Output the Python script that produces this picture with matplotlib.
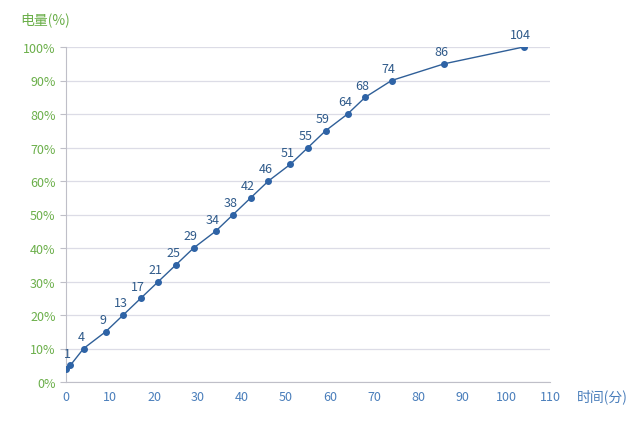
import matplotlib
matplotlib.use("Agg")
import matplotlib.pyplot as plt
from matplotlib.ticker import PercentFormatter

plt.rcParams['font.family'] = ['Noto Sans CJK SC', 'DejaVu Sans']

minutes = [0, 1, 4, 9, 13, 17, 21, 25, 29, 34, 38, 42, 46, 51, 55, 59, 64, 68, 74, 86, 104]
battery = [4, 5, 10, 15, 20, 25, 30, 35, 40, 45, 50, 55, 60, 65, 70, 75, 80, 85, 90, 95, 100]
point_labels = [None, "1", "4", "9", "13", "17", "21", "25", "29", "34", "38", "42", "46",
                "51", "55", "59", "64", "68", "74", "86", "104"]

green = "#6BAF4A"
blue_tick = "#4A7EBB"
line_c = "#2F5F98"
marker_c = "#2E63A6"
label_c = "#2F5A8A"

fig = plt.figure(figsize=(6.4, 4.27), dpi=100)
ax = fig.add_axes([66/640, 1-383/427, (550-66)/640, (383-48)/427])

ax.plot(minutes, battery, color=line_c, lw=1.0, marker='o', ms=4.0,
        markerfacecolor=marker_c, markeredgecolor=marker_c, zorder=3)
for x, y, t in zip(minutes, battery, point_labels):
    if t:
        ax.annotate(t, (x, y), xytext=(-2, 4), textcoords='offset points',
                    ha='center', va='bottom', fontsize=9, color=label_c)

ax.set_xlim(0, 110)
ax.set_ylim(0, 100)
ax.set_xticks(range(0, 111, 10))
ax.set_yticks(range(0, 101, 10))
ax.yaxis.set_major_formatter(PercentFormatter(decimals=0))
ax.grid(axis='y', color="#DCDCE6", lw=0.9)
ax.set_axisbelow(True)
for s in ['top', 'right']:
    ax.spines[s].set_visible(False)
ax.spines['left'].set_color("#BFBFC8")
ax.spines['bottom'].set_color("#BFBFC8")
ax.tick_params(axis='y', colors="#BFBFC8", labelcolor=green, labelsize=9, length=4, direction='out')
ax.tick_params(axis='x', colors="#BFBFC8", labelcolor=blue_tick, labelsize=9, length=0, pad=6)

fig.text(20/640, 1-20/427, "电量(%)", color=green, fontsize=10, va='center', ha='left')
fig.text(577/640, 1-397/427, "时间(分)", color=blue_tick, fontsize=10, va='center', ha='left')

fig.savefig("out.png", dpi=100)
